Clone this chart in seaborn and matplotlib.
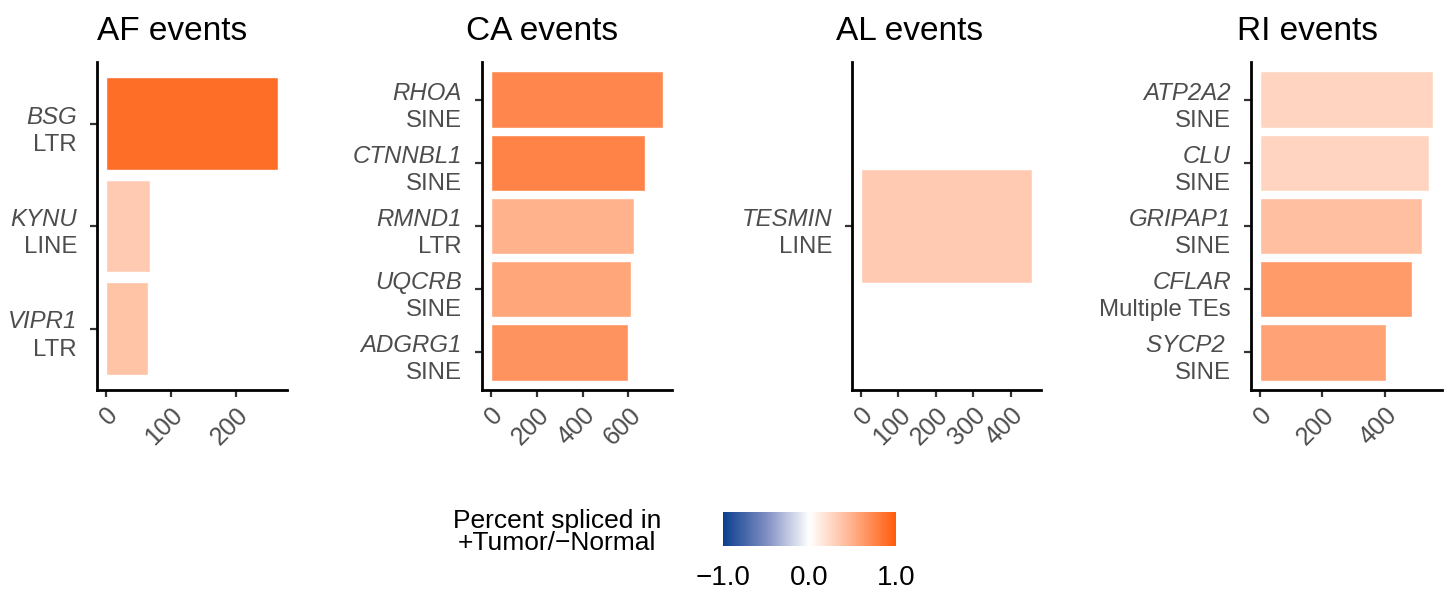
import pandas as pd
import matplotlib
matplotlib.use("Agg")
import matplotlib.pyplot as plt
import seaborn as sns
from matplotlib.colors import LinearSegmentedColormap, Normalize
from matplotlib.cm import ScalarMappable
from matplotlib.transforms import blended_transform_factory

# data
af_genes = ["BSG", "KYNU", "VIPR1"]
af_te = ["LTR", "LINE", "LTR"]
af_count = [266, 68, 65]
af_psi = [0.89, 0.33, 0.38]
af_ticks = [0, 100, 200]

ca_genes = ["RHOA", "CTNNBL1", "RMND1", "UQCRB", "ADGRG1"]
ca_te = ["SINE", "SINE", "LTR", "SINE", "SINE"]
ca_count = [752, 670, 626, 613, 596]
ca_psi = [0.735, 0.76, 0.49, 0.56, 0.67]
ca_ticks = [0, 200, 400, 600]

al_genes = ["TESMIN"]
al_te = ["LINE"]
al_count = [458]
al_psi = [0.335]
al_ticks = [0, 100, 200, 300, 400]

ri_genes = ["ATP2A2", "CLU", "GRIPAP1", "CFLAR", "SYCP2 "]
ri_te = ["SINE", "SINE", "SINE", "Multiple TEs", "SINE"]
ri_count = [555, 542, 520, 488, 404]
ri_psi = [0.26, 0.27, 0.40, 0.63, 0.58]
ri_ticks = [0, 200, 400]

cbar_ticks = [-1.0, 0.0, 1.0]
cbar_labels = ["\u22121.0", "0.0", "1.0"]

sns.set_style("white")
plt.rcParams["font.family"] = ["Liberation Sans", "DejaVu Sans"]

cmap = LinearSegmentedColormap.from_list(
    "psi",
    [(0.0, "#0B3F8F"), (0.25, "#7F8EC2"), (0.5, "#FFFFFF"), (0.75, "#FFB08A"), (1.0, "#FF5B0B")],
)
norm = Normalize(-1, 1)

W, H = 1451, 589
fig = plt.figure(figsize=(W / 100, H / 100), dpi=100)

panels = [
    ("AF events", af_genes, af_te, af_count, af_psi, af_ticks, 97, 287, 97, 0.9),
    ("CA events", ca_genes, ca_te, ca_count, ca_psi, ca_ticks, 482, 672, 466, 0.9),
    ("AL events", al_genes, al_te, al_count, al_psi, al_ticks, 852, 1041, 836, 0.42),
    ("RI events", ri_genes, ri_te, ri_count, ri_psi, ri_ticks, 1251, 1442, 1237, 0.9),
]

top, bottom = 62, 390
grey = "#4D4D4D"
lab_size = 17.3

for title, genes, tes, counts, psi, ticks, left, right, tx, bw in panels:
    ax = fig.add_axes([left / W, 1 - bottom / H, (right - left) / W, (bottom - top) / H])
    df = pd.DataFrame({"gene": genes, "te": tes, "count": counts, "psi": psi})
    pal = {g: cmap(norm(p)) for g, p in zip(genes, psi)}
    sns.barplot(data=df, y="gene", x="count", hue="gene", palette=pal, orient="h",
                width=bw, saturation=1, legend=False, ax=ax)
    n = len(genes)
    mx = max(counts)
    ax.set_xlim(-0.05 * mx, 1.05 * mx)
    ax.set_ylim(n - 0.4, -0.6)
    ax.set_yticks(range(n))
    ax.set_yticklabels([])
    ax.set_xticks(ticks)
    ax.set_xticklabels([str(t) for t in ticks], rotation=45, ha="right", va="top",
                       rotation_mode="anchor", fontsize=18, color=grey)
    ax.set_xlabel("")
    ax.set_ylabel("")
    for s in ["top", "right"]:
        ax.spines[s].set_visible(False)
    for s in ["left", "bottom"]:
        ax.spines[s].set_color("black")
        ax.spines[s].set_linewidth(2)
    ax.tick_params(axis="both", length=5, width=1.6, color="#333333", left=True, bottom=True)
    ax.tick_params(axis="x", pad=4)

    trans = blended_transform_factory(ax.transAxes, ax.transData)
    for i, (g, t) in enumerate(zip(genes, tes)):
        ax.annotate(g, xy=(0, i), xycoords=trans, xytext=(-14.4, 0), textcoords="offset points",
                    ha="right", va="baseline", style="italic", fontsize=lab_size, color=grey)
        ax.annotate(t, xy=(0, i), xycoords=trans, xytext=(-14.4, -19.5), textcoords="offset points",
                    ha="right", va="baseline", fontsize=lab_size, color=grey)

    fig.text(tx / W, 1 - 40 / H, title, ha="left", va="baseline", fontsize=24, color="black")

# colour legend
fig.text(557 / W, 1 - 532 / H, "Percent spliced in\n+Tumor/\u2212Normal", ha="center", va="center",
         multialignment="center", fontsize=19, linespacing=0.85, color="black")
cax = fig.add_axes([723 / W, 1 - 546 / H, 173 / W, 34 / H])
cb = fig.colorbar(ScalarMappable(norm=norm, cmap=cmap), cax=cax, orientation="horizontal")
cb.outline.set_visible(False)
cb.set_ticks(cbar_ticks)
cb.set_ticklabels(cbar_labels)
cax.tick_params(axis="x", length=0, pad=14, labelsize=20, labelcolor="black")
cax.set_xticks([-1, -0.5, 0, 0.5, 1], minor=True)
cax.tick_params(axis="x", which="minor", direction="in", length=5, width=1, color="white",
                top=True, bottom=True)

fig.savefig("out.png", dpi=100)
